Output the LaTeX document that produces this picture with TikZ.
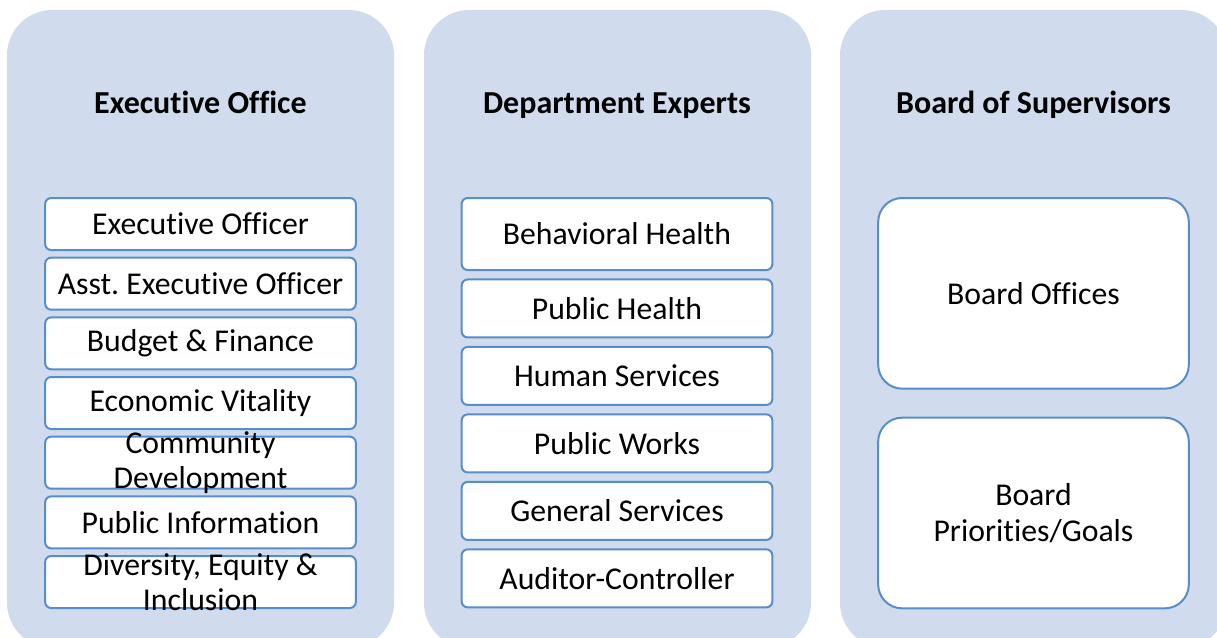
\documentclass[tikz,border=0pt]{standalone}
\usepackage{fontspec}
\setmainfont{Carlito}[Ligatures=NoCommon]
\usetikzlibrary{positioning}
\definecolor{panelblue}{RGB}{208,220,238}
\definecolor{edgeblue}{RGB}{88,141,202}
\frenchspacing

\begin{document}
\begin{tikzpicture}
        [
            x=0.75pt,
            y=-0.75pt,
            panel/.style={fill=panelblue, rounded corners=34pt},
            heading/.style={anchor=base, font=\fontsize{24}{26.5}\selectfont\bfseries},
            unit/.style={draw=edgeblue, line width=1.5pt, fill=white, rounded corners=4.5pt,
                inner sep=0pt, outer sep=0pt, minimum width=233pt, align=center,
                font=\fontsize{23.8}{26.5}\selectfont},
            unitlabel/.style={inner sep=0pt, align=center, font=\fontsize{23.8}{26.5}\selectfont},
            small/.style={unit, minimum height=39pt},
            dept/.style={unit, minimum height=43.5pt},
            board/.style={unit, minimum height=143pt, rounded corners=18pt}
        ]
        \useasboundingbox (0,0) rectangle (1217,637);

        \fill[panel] (7,10) rectangle (394,648);
        \fill[panel] (424,10) rectangle (811,648);
        \fill[panel] (840,10) rectangle (1227,648);

        \node[heading] (exec) at (200.5,113) {Executive Office};
        \node[heading] (dept) at (617,113) {Department Experts};
        \node[heading] (bos) at (1033.5,113) {Board of Supervisors};

        \node[small, anchor=north] (eo) at (200.5,198) {Executive Officer};
        \node[small, below=5.75pt of eo] (aeo) {Asst. Executive Officer};
        \node[small, below=5.75pt of aeo] (bf) {Budget \& Finance};
        \node[small, below=5.75pt of bf] (ev) {Economic Vitality};
        \node[small, below=5.75pt of ev] (cd) {};
        \node[small, below=5.75pt of cd] (pi) {Public Information};
        \node[small, below=5.75pt of pi] (dei) {};
        \node[unitlabel] (cdtext) at (cd) {Community\\Development};
        \node[unitlabel] (deitext) at (dei) {Diversity, Equity \&\\Inclusion};

        \node[unit, minimum height=54pt, anchor=north] (bh) at (617,198) {Behavioral Health};
        \node[dept, below=7.1pt of bh] (ph) {Public Health};
        \node[dept, below=7.1pt of ph] (hs) {Human Services};
        \node[dept, below=7.1pt of hs] (pw) {Public Works};
        \node[dept, below=7.1pt of pw] (gs) {General Services};
        \node[dept, below=7.1pt of gs] (ac) {Auditor-Controller};

        \node[board, anchor=north] (bo) at (1033.5,198) {Board Offices};
        \node[board, below=21.75pt of bo] (bp) {Board\\Priorities/Goals};
    \end{tikzpicture}
\end{document}
